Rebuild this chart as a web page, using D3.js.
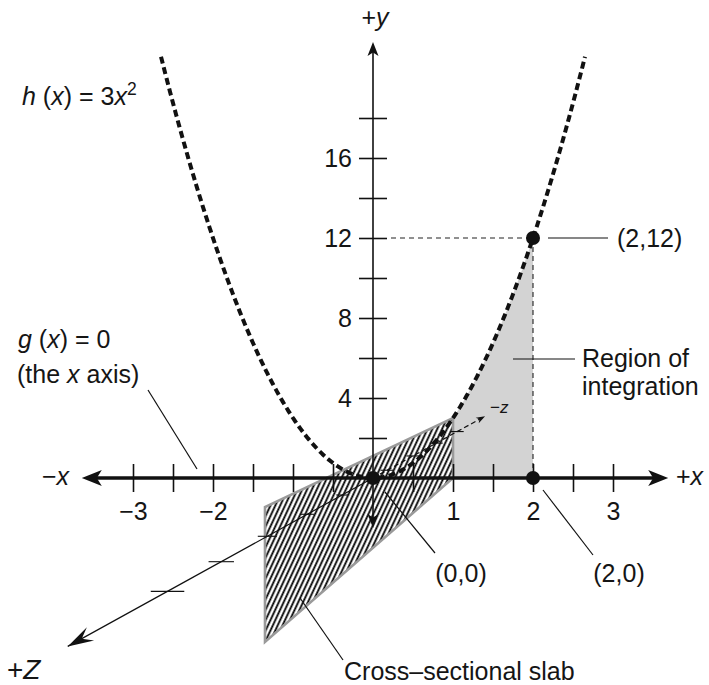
<!DOCTYPE html>
<html><head><meta charset="utf-8">
<script src="https://cdn.jsdelivr.net/npm/d3@7"></script>
<style>
body{margin:0;background:#fff}
svg{display:block}
text{font-family:"Liberation Sans",Arial,Helvetica,sans-serif;fill:#151515}
</style>
</head><body>
<script>
// ---------- data ----------
const xTicks = [-3,-2.5,-2,-1.5,-1,-0.5,0.5,1,1.5,2,2.5,3];
const xTickLabels = [-3,-2,1,2,3];
const yTicks = [2,4,6,8,10,12,14,16,18];
const yTickLabels = [4,8,12,16];
const zTicks = [-3.5,-2.5,-1.5,-0.5,1,2,3,4,5];
const xAxisEnds = [-3.64, 3.69];
const yAxisEnds = [-2.5, 21.8];
const zAxisEnds = [-5, 6.5];
const curveCoef = 3;          // h(x) = 3x^2
const curveRange = [-2.65, 2.65];
const regionX = [0, 2];       // region of integration
const slabX = [1, 1, -1.35, -1.35];
const slabY = [0, 3, -1.45, -8.2];
const pointX = [0, 2, 2];
const pointY = [0, 12, 0];
const pointLabels = ["(0,0)", "(2,12)", "(2,0)"];

// ---------- setup ----------
const W = 709, H = 685, FS = 25;
const svg = d3.select("body").append("svg").attr("width", W).attr("height", H);
const x = d3.scaleLinear().domain([-3, 3]).range([133, 613]);
const y = d3.scaleLinear().domain([0, 20]).range([478, 78]);
const h = v => curveCoef * v * v;

// pseudo-perspective projection of the z axis
const zUnit = 16, zDepth = 17, zSlope = -1.813;
function zp(z){
  const dy = zUnit * z / (1 - z / zDepth);
  return [x(0) + zSlope * dy, y(0) + dy];
}

const defs = svg.append("defs");
const pat = defs.append("pattern").attr("id","hatch").attr("patternUnits","userSpaceOnUse")
  .attr("width",4.4).attr("height",4.4).attr("patternTransform","rotate(25)");
pat.append("rect").attr("width",4.4).attr("height",4.4).attr("fill","#fff");
pat.append("line").attr("x1",1.2).attr("x2",1.2).attr("y1",-1).attr("y2",5.4)
  .attr("stroke","#000").attr("stroke-width",1.8);

function arrowHead(g, tip, angle, len, hw, notch, fill){
  const c = Math.cos(angle), s = Math.sin(angle);
  const pt = (a,b) => [tip[0] + a*c - b*s, tip[1] + a*s + b*c];
  const p = [pt(0,0), pt(-len, -hw), pt(-len+notch, 0), pt(-len, hw)];
  g.append("path").attr("d","M"+p.map(d=>d.join(",")).join("L")+"Z").attr("fill",fill||"#111");
}

// ---------- region of integration ----------
const regPts = d3.range(regionX[0], regionX[1] + 1e-9, 0.02);
svg.append("path").datum(regPts)
  .attr("d", d3.area().x(d=>x(d)).y0(y(0)).y1(d=>y(h(d))))
  .attr("fill","#d3d3d3");

// ---------- slab ----------
svg.append("polygon")
  .attr("points", slabX.map((v,i)=>[x(v), y(slabY[i])].join(",")).join(" "))
  .attr("fill","url(#hatch)").attr("stroke","#9a9a9a").attr("stroke-width",2.6)
  .attr("stroke-linejoin","miter");

// ---------- guides ----------
svg.append("line").attr("x1",x(0)+18).attr("x2",x(pointX[1])).attr("y1",y(pointY[1])).attr("y2",y(pointY[1]))
  .attr("stroke","#222").attr("stroke-width",1.1).attr("stroke-dasharray","5,4");
svg.append("line").attr("x1",x(pointX[1])).attr("x2",x(pointX[1])).attr("y1",y(pointY[1])).attr("y2",y(0))
  .attr("stroke","#222").attr("stroke-width",1.1).attr("stroke-dasharray","5,4");

// ---------- z axis ----------
const zPos = zp(zAxisEnds[1]), zNeg = zp(zAxisEnds[0]);
svg.append("line").attr("x1",x(0)).attr("y1",y(0)).attr("x2",zPos[0]).attr("y2",zPos[1])
  .attr("stroke","#111").attr("stroke-width",1.2);
arrowHead(svg, zPos, Math.atan2(zPos[1]-y(0), zPos[0]-x(0)), 26, 7.5, 10);
svg.append("line").attr("x1",x(0)).attr("y1",y(0)).attr("x2",zNeg[0]).attr("y2",zNeg[1])
  .attr("stroke","#111").attr("stroke-width",1.2).attr("stroke-dasharray","5,3");
arrowHead(svg, zNeg, Math.atan2(zNeg[1]-y(0), zNeg[0]-x(0)), 9, 3.2, 2.5);
svg.append("g").selectAll("line").data(zTicks).join("line")
  .attr("x1", d => zp(d)[0] - (d > 0 ? (5.5 + 0.45*d*d) : 6.5))
  .attr("x2", d => zp(d)[0] + (d > 0 ? (5.5 + 0.45*d*d) : 6.5))
  .attr("y1", d => zp(d)[1]).attr("y2", d => zp(d)[1])
  .attr("stroke","#111").attr("stroke-width",1.1);

// ---------- x axis ----------
const xAx = svg.append("g").attr("transform",`translate(0,${y(0)})`)
  .call(d3.axisBottom(x).tickValues(xTicks).tickSize(14).tickFormat(""));
xAx.select(".domain").remove();
xAx.selectAll(".tick line").attr("y1",-14).attr("stroke","#111").attr("stroke-width",1.6);
svg.append("line").attr("x1",x(xAxisEnds[0])+8).attr("x2",x(xAxisEnds[1])-8)
  .attr("y1",y(0)).attr("y2",y(0)).attr("stroke","#111").attr("stroke-width",3.6);
arrowHead(svg, [x(xAxisEnds[0]), y(0)], Math.PI, 20, 8, 5);
arrowHead(svg, [x(xAxisEnds[1]), y(0)], 0, 20, 8, 5);
const xLab = svg.append("g").attr("transform",`translate(0,${y(0)})`)
  .call(d3.axisBottom(x).tickValues(xTickLabels).tickSize(0).tickPadding(24).tickFormat(d3.format("d")));
xLab.select(".domain").remove();
xLab.selectAll("text").attr("font-size",FS).attr("font-family",null).attr("fill","#151515");

// ---------- y axis ----------
svg.append("line").attr("x1",x(0)).attr("x2",x(0)).attr("y1",y(yAxisEnds[0])-6).attr("y2",y(yAxisEnds[1])+6)
  .attr("stroke","#111").attr("stroke-width",1.6);
arrowHead(svg, [x(0), y(yAxisEnds[1])], -Math.PI/2, 14, 5.5, 3.5);
arrowHead(svg, [x(0), y(yAxisEnds[0])], Math.PI/2, 14, 5.5, 3.5);
const yAx = svg.append("g").attr("transform",`translate(${x(0)},0)`)
  .call(d3.axisLeft(y).tickValues(yTicks).tickSize(14).tickFormat(""));
yAx.select(".domain").remove();
yAx.selectAll(".tick line").attr("x1",14).attr("stroke","#111").attr("stroke-width",1.6);
const yLab = svg.append("g").attr("transform",`translate(${x(0)},0)`)
  .call(d3.axisLeft(y).tickValues(yTickLabels).tickSize(0).tickPadding(21).tickFormat(d3.format("d")));
yLab.select(".domain").remove();
yLab.selectAll("text").attr("font-size",FS).attr("font-family",null).attr("fill","#151515");

// ---------- parabola ----------
const curvePts = d3.range(curveRange[0], curveRange[1] + 1e-9, 0.01);
svg.append("path").datum(curvePts)
  .attr("d", d3.line().x(d=>x(d)).y(d=>y(h(d))))
  .attr("fill","none").attr("stroke","#111").attr("stroke-width",4).attr("stroke-dasharray","7,4");

// ---------- points ----------
svg.append("g").selectAll("circle").data(pointX).join("circle")
  .attr("cx", d => x(d)).attr("cy", (d,i) => y(pointY[i])).attr("r",7).attr("fill","#111");

// ---------- leaders ----------
const leaders = [
  [148,390,197,469],            // g(x) leader
  [x(0)+12,y(0)+14,435,553],    // (0,0)
  [x(2)+10,y(0)+12,593,555],    // (2,0)
  [x(2)+15,y(12),608,y(12)],    // (2,12)
  [513,359,575,359],            // region
  [300,598,343,660]             // slab
];
svg.append("g").selectAll("line").data(leaders).join("line")
  .attr("x1",d=>d[0]).attr("y1",d=>d[1]).attr("x2",d=>d[2]).attr("y2",d=>d[3])
  .attr("stroke","#111").attr("stroke-width",1.2);

// ---------- texts ----------
function rich(xp, yp, parts, size, anchor){
  const sz = size || FS;
  const t = svg.append("text").attr("x",xp).attr("y",yp).attr("font-size",sz)
    .attr("text-anchor",anchor||"start");
  parts.forEach(p => {
    const s = t.append("tspan").text(p.t);
    if (p.i) s.attr("font-style","italic");
    if (p.sup) s.attr("font-size",sz*0.7).attr("dy",-sz*0.4);
  });
  return t;
}
rich(22,105,[{t:"h",i:1},{t:" ("},{t:"x",i:1},{t:") = 3"},{t:"x",i:1},{t:"2",sup:1}]);
rich(18,348,[{t:"g",i:1},{t:" ("},{t:"x",i:1},{t:") = 0"}]);
rich(17,383,[{t:"(the "},{t:"x",i:1},{t:" axis)"}]);
rich(375,26,[{t:"+"},{t:"y",i:1}],FS,"middle");
rich(42,485,[{t:"\u2212"},{t:"x",i:1}]);
rich(676,485,[{t:"+"},{t:"x",i:1}]);
rich(7,679,[{t:"+"},{t:"Z",i:1}],28);
rich(490,413,[{t:"\u2212"},{t:"z",i:1}],17);
svg.append("text").attr("x",(x(pointX[0])+88)).attr("y",582).attr("font-size",FS).attr("text-anchor","middle").text(pointLabels[0]);
svg.append("text").attr("x",(x(pointX[2])+86)).attr("y",582).attr("font-size",FS).attr("text-anchor","middle").text(pointLabels[2]);
svg.append("text").attr("x",617).attr("y",y(pointY[1])+9).attr("font-size",FS).text(pointLabels[1]);
svg.append("text").attr("x",582).attr("y",367).attr("font-size",FS).text("Region of");
svg.append("text").attr("x",582).attr("y",395).attr("font-size",FS).text("integration");
svg.append("text").attr("x",344).attr("y",680).attr("font-size",FS).text("Cross\u2013sectional slab");
</script>
</body></html>
